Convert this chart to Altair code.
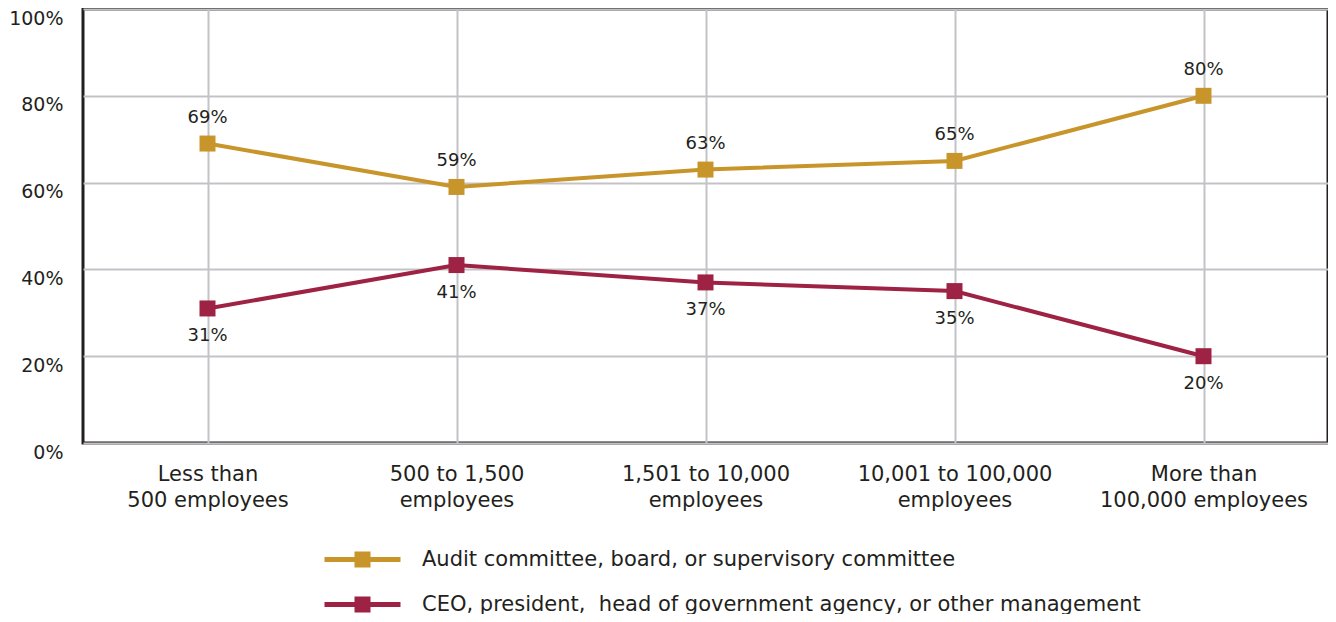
import altair as alt
import pandas as pd

categories = [
    "Less than 500 employees",
    "500 to 1,500 employees",
    "1,501 to 10,000 employees",
    "10,001 to 100,000 employees",
    "More than 100,000 employees",
]
tick_lines = [
    ["Less than", "500 employees"],
    ["500 to 1,500", "employees"],
    ["1,501 to 10,000", "employees"],
    ["10,001 to 100,000", "employees"],
    ["More than", "100,000 employees"],
]
series_names = [
    "Audit committee, board, or supervisory committee",
    "CEO, president, \u00a0head of government agency, or other management",
]
audit_values = [69, 59, 63, 65, 80]
ceo_values = [31, 41, 37, 35, 20]
colors = ["#C8952B", "#9E2244"]
y_ticks = [0, 20, 40, 60, 80, 100]

rows = []
for c, a, b in zip(categories, audit_values, ceo_values):
    rows.append({"cat": c, "series": series_names[0], "value": a})
    rows.append({"cat": c, "series": series_names[1], "value": b})
df = pd.DataFrame(rows)

FONT = "DejaVu Sans"
TXT = "#231f20"

# multi-line x labels
expr = "datum.label"
for c, lines in reversed(list(zip(categories, tick_lines))):
    arr = "[" + ",".join("'" + l + "'" for l in lines) + "]"
    expr = f"datum.label == '{c}' ? {arr} : ({expr})"

x_enc = alt.X(
    "cat:N",
    sort=categories,
    scale=alt.Scale(type="point", padding=0.5),
    axis=alt.Axis(
        title=None, domain=False, ticks=False, grid=True,
        gridColor="#c3c2c7", gridWidth=2,
        labelExpr=expr, labelFontSize=21, labelFont=FONT, labelColor=TXT,
        labelLineHeight=26, labelBaseline="top", labelPadding=20, labelAngle=0,
        labelLimit=400,
    ),
)
y_enc = alt.Y(
    "value:Q",
    scale=alt.Scale(domain=[0, 100], nice=False),
    axis=alt.Axis(
        title=None, domain=False, ticks=False, values=y_ticks,
        gridColor="#c3c2c7", gridWidth=2,
        labelExpr="datum.value + '%'", labelFontSize=19, labelFont=FONT,
        labelColor=TXT, labelPadding=20, labelOffset=9,
    ),
)
color_scale = alt.Scale(domain=series_names, range=colors)

legend_path = "M-4.75,-0.3H4.75V0.3H-4.75Z M-1,-1H1V1H-1Z"
legend = alt.Legend(
    title=None, orient="none", legendX=269, legendY=540,
    symbolType=legend_path, symbolSize=256, symbolStrokeWidth=0,
    labelFontSize=21, labelFont=FONT, labelColor=TXT, labelOffset=49,
    rowPadding=23, padding=0, labelLimit=1000, symbolOpacity=1,
)
color_enc = alt.Color("series:N", scale=color_scale, sort=series_names, legend=legend)

base = alt.Chart(df)
lines = base.mark_line(strokeWidth=4).encode(x=x_enc, y=y_enc, color=color_enc)
points = base.mark_point(shape="square", filled=True, size=256, opacity=1).encode(
    x=x_enc, y=y_enc, color=color_enc
)
text_top = base.transform_filter(alt.datum.series == series_names[0]).mark_text(
    dy=-26, fontSize=18, font=FONT, color=TXT
).encode(x=x_enc, y=y_enc, text=alt.Text("label:N")).transform_calculate(
    label="datum.value + '%'"
)
text_bot = base.transform_filter(alt.datum.series == series_names[1]).mark_text(
    dy=28, fontSize=18, font=FONT, color=TXT
).encode(x=x_enc, y=y_enc, text=alt.Text("label:N")).transform_calculate(
    label="datum.value + '%'"
)

chart = (
    alt.layer(lines, points, text_top, text_bot)
    .properties(
        width=1245, height=434,
        autosize=alt.AutoSizeParams(type="none"),
        padding={"left": 75, "top": 1, "right": 0, "bottom": 171},
    )
    .configure_view(stroke=TXT, strokeWidth=3)
    .configure_axis(gridColor="#c3c2c7")
)
chart.save("out.html", embed_options={"renderer": "svg", "actions": False})
